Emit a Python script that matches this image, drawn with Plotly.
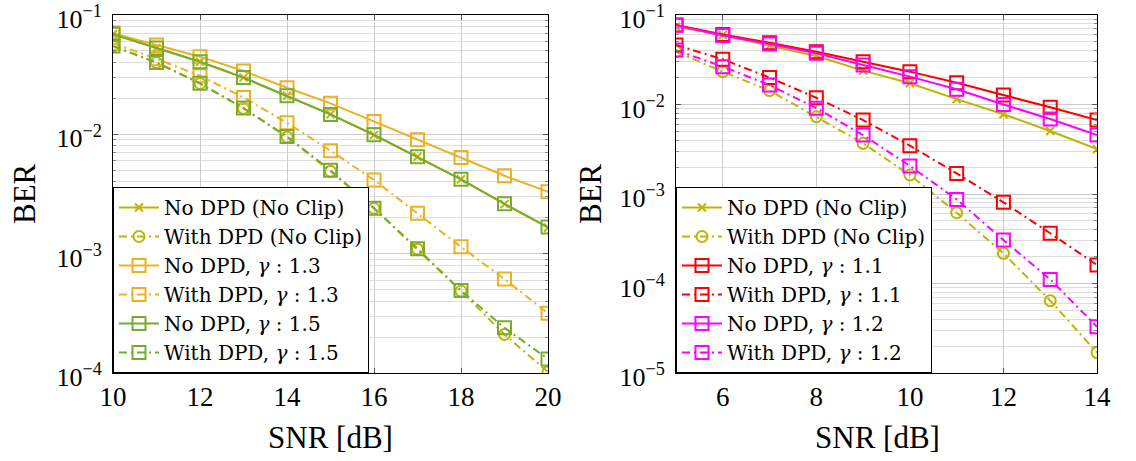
import plotly.graph_objects as go

# ---------------- data ----------------
snr_left = [10, 11, 12, 13, 14, 15, 16, 17, 18, 19, 20]
nc_no_l = [0.069, 0.053, 0.0406, 0.0299, 0.0211, 0.0147, 0.0099, 0.0065, 0.0042, 0.0026, 0.00165]
nc_dpd_l = [0.055, 0.040, 0.0267, 0.0165, 0.0095, 0.0049, 0.0024, 0.00109, 0.000486, 0.00021, 0.000102]
g13_no = [0.0706, 0.056, 0.0448, 0.034, 0.0246, 0.0182, 0.0128, 0.009, 0.0064, 0.0045, 0.0033]
g13_dpd = [0.058, 0.043, 0.031, 0.0204, 0.0125, 0.0073, 0.00414, 0.00218, 0.00114, 0.000612, 0.000316]
g15_no = [0.069, 0.053, 0.0406, 0.0299, 0.0211, 0.0147, 0.0099, 0.0065, 0.0042, 0.00262, 0.00167]
g15_dpd = [0.055, 0.040, 0.0268, 0.0166, 0.0096, 0.0050, 0.0024, 0.0011, 0.00049, 0.000239, 0.000131]

snr_right = [5, 6, 7, 8, 9, 10, 11, 12, 13, 14]
nc_no_r = [0.074, 0.0598, 0.0454, 0.0348, 0.0239, 0.0173, 0.0115, 0.0078, 0.00506, 0.00318]
nc_dpd_r = [0.0389, 0.0233, 0.0143, 0.0073, 0.00368, 0.00163, 0.000618, 0.000217, 6.43e-5, 1.69e-5]
g11_no = [0.0773, 0.0608, 0.049, 0.0389, 0.0301, 0.0233, 0.0175, 0.0128, 0.0093, 0.0067]
g11_dpd = [0.0463, 0.032, 0.020, 0.0119, 0.0067, 0.00347, 0.0017, 0.000807, 0.000364, 0.000161]
g12_no = [0.077, 0.059, 0.0474, 0.0373, 0.0276, 0.0205, 0.0148, 0.0100, 0.0069, 0.00456]
g12_dpd = [0.0406, 0.0265, 0.0165, 0.0091, 0.00456, 0.00206, 0.00087, 0.000306, 0.000111, 3.29e-5]

left_names = ["No DPD (No Clip)", "With DPD (No Clip)",
              "No DPD, <i>γ</i> : 1.3", "With DPD, <i>γ</i> : 1.3",
              "No DPD, <i>γ</i> : 1.5", "With DPD, <i>γ</i> : 1.5"]
right_names = ["No DPD (No Clip)", "With DPD (No Clip)",
               "No DPD, <i>γ</i> : 1.1", "With DPD, <i>γ</i> : 1.1",
               "No DPD, <i>γ</i> : 1.2", "With DPD, <i>γ</i> : 1.2"]

# ---------------- styles ----------------
OLIVE = "#BDB500"
ORANGE = "#EDB120"
GREEN = "#77AC30"
RED = "#FF0000"
MAGENTA = "#FF00FF"
DASHDOT = "8px,4px,2px,4px"
FONT = "Liberation Serif"
LFONT = "DejaVu Serif"

fig = go.Figure()


def add(x, y, name, color, dash, symbol, size, xa, ya, legend):
    fig.add_trace(go.Scatter(
        x=x, y=y, name=name, mode="lines+markers",
        line=dict(color=color, width=2, dash=dash),
        marker=dict(symbol=symbol, size=size, color=color,
                    line=dict(color=color, width=2)),
        xaxis=xa, yaxis=ya, legend=legend))


# left panel
add(snr_left, nc_no_l, left_names[0], OLIVE, "solid", "x-thin-open", 8, "x", "y", "legend")
add(snr_left, nc_dpd_l, left_names[1], OLIVE, DASHDOT, "circle-open", 11, "x", "y", "legend")
add(snr_left, g13_no, left_names[2], ORANGE, "solid", "square-open", 13, "x", "y", "legend")
add(snr_left, g13_dpd, left_names[3], ORANGE, DASHDOT, "square-open", 13, "x", "y", "legend")
add(snr_left, g15_no, left_names[4], GREEN, "solid", "square-open", 13, "x", "y", "legend")
add(snr_left, g15_dpd, left_names[5], GREEN, DASHDOT, "square-open", 13, "x", "y", "legend")

# right panel
add(snr_right, nc_no_r, right_names[0], OLIVE, "solid", "x-thin-open", 8, "x2", "y2", "legend2")
add(snr_right, nc_dpd_r, right_names[1], OLIVE, DASHDOT, "circle-open", 11, "x2", "y2", "legend2")
add(snr_right, g11_no, right_names[2], RED, "solid", "square-open", 13, "x2", "y2", "legend2")
add(snr_right, g11_dpd, right_names[3], RED, DASHDOT, "square-open", 13, "x2", "y2", "legend2")
add(snr_right, g12_no, right_names[4], MAGENTA, "solid", "square-open", 13, "x2", "y2", "legend2")
add(snr_right, g12_dpd, right_names[5], MAGENTA, DASHDOT, "square-open", 13, "x2", "y2", "legend2")

W, H = 1136, 461
ytop = 1 - 15 / H
ybot = 1 - 373 / H
EPS = 0.0005

tick_font = dict(family=FONT, size=26, color="black")


def xaxis(dom, rng, tickvals):
    return dict(domain=dom, range=rng, tickvals=tickvals, showgrid=True,
                automargin=False, ticklabeloverflow="allow",
                gridcolor="#cccccc", gridwidth=1, zeroline=False,
                showline=True, linecolor="black", linewidth=1, mirror="ticks",
                ticks="inside", ticklen=5, tickcolor="#555555",
                tickfont=dict(family=FONT, size=27, color="black"))


def yaxis(anchor, exps):
    return dict(type="log", domain=[ybot, ytop], automargin=False,
                ticklabeloverflow="allow", ticklabelstandoff=5, ticklabelshift=4,
                range=[exps[0] - EPS, exps[-1] + EPS], anchor=anchor,
                tickvals=[10 ** e for e in exps],
                ticktext=["10<sup>−%d</sup>" % (-e) for e in exps],
                showgrid=True, gridcolor="#cccccc", zeroline=False,
                showline=True, linecolor="black", linewidth=1, mirror="ticks",
                ticks="inside", ticklen=5, tickcolor="#555555",
                minor=dict(dtick="D1", showgrid=True, gridcolor="#dddddd",
                           ticks="inside", ticklen=3, tickcolor="#888888"),
                tickfont=tick_font)


legend_common = dict(bgcolor="white", bordercolor="black", borderwidth=1,
                     font=dict(family=LFONT, size=20, color="black"),
                     xanchor="left", yanchor="bottom", y=ybot,
                     tracegroupgap=0, itemwidth=40)

title_font = dict(family=FONT, size=31, color="black")


def ann(text, x, y, angle=0):
    return dict(text=text, x=x / W, y=1 - y / H, xref="paper", yref="paper",
                xanchor="center", yanchor="middle", textangle=angle,
                showarrow=False, font=title_font)


fig.update_layout(
    width=W, height=H,
    margin=dict(l=0, r=0, t=0, b=0, autoexpand=False),
    paper_bgcolor="white", plot_bgcolor="white",
    xaxis=xaxis([113 / W, 548 / W], [10, 20], [10, 12, 14, 16, 18, 20]),
    yaxis=yaxis("x", [-4, -3, -2, -1]),
    xaxis2=dict(xaxis([676 / W, 1097 / W], [5, 14], [6, 8, 10, 12, 14]), anchor="y2"),
    yaxis2=yaxis("x2", [-5, -4, -3, -2, -1]),
    legend=dict(legend_common, x=113 / W),
    legend2=dict(legend_common, x=676 / W),
    annotations=[
        ann("BER", 24, 194, -90),
        ann("BER", 590, 194, -90),
        ann("SNR [dB]", 330, 437),
        ann("SNR [dB]", 877, 437),
    ],
)

fig.write_html("out.html")
